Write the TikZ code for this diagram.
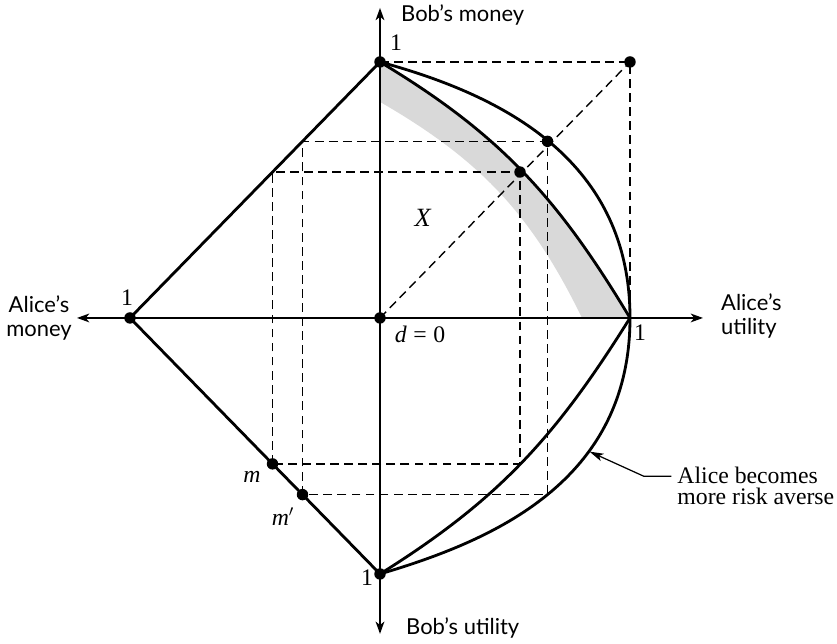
\documentclass[tikz,border=0pt]{standalone}
\usepackage{fontspec}
\setmainfont{Liberation Serif}
\newfontfamily\handfont{Lato}
\usetikzlibrary{arrows.meta, calc, positioning}

\tikzset{
  axis/.style={line width=0.9pt, <->},
  curve/.style={line width=1.6pt},
  guide/.style={line width=0.8pt, dash pattern=on 5pt off 3pt},
  dot/.style={circle, fill=black, inner sep=0pt, minimum size=6.5pt},
  axislabel/.style={font=\handfont\fontsize{12.5}{13.5}\selectfont, align=left},
  numlabel/.style={font=\fontsize{13.5}{12}\selectfont},
  pointer/.style={line width=0.7pt, -{Stealth[length=8pt, width=4.5pt, inset=2pt]}},
}

\begin{document}
\begin{tikzpicture}[x=5cm, y=5.12cm, >={Stealth[length=7pt, width=5pt, inset=2pt]}]
    \useasboundingbox (-1.52,-1.27) rectangle (1.828,1.242);
    % main points
    \coordinate (O) at (0,0);
    \coordinate (T) at (0,1);
    \coordinate (L) at (-1,0);
    \coordinate (B) at (0,-1);
    \coordinate (R) at (1,0);
    \coordinate (C) at (1,1);
    \coordinate (P1) at (0.56,0.57);
    \coordinate (P2) at (0.67,0.69);
    \coordinate (m) at (-0.43,-0.57);
    \coordinate (m2) at (-0.31,-0.69);
    % axis ends
    \coordinate (xl) at (-1.212,0);
    \coordinate (xr) at (1.292,0);
    \coordinate (yt) at (0,1.211);
    \coordinate (yb) at (0,-1.234);

    % shaded band
    \fill[black!15] (T) to[out=-31, in=121] (R) -- (0.808,0)
        to[out=116, in=-30] (0,0.844) -- cycle;

    % dashed guides
    \draw[guide] (T) -- (C) -- (R);
    \draw[guide] (O) -- (C);
    \draw[guide] (m) rectangle (P1);
    \draw[guide] (m2) rectangle (P2);

    % axes
    \draw[axis] (xl) -- (xr);
    \draw[axis] (yb) -- (yt);
    \node[axislabel, align=center] (amoney) at (-1.364,0) {Alice’s\\money};
    \node[axislabel, anchor=west] (autil) at (1.34,0.008) {Alice’s\\utility};
    \node[axislabel, anchor=west] (bmoney) at (0.06,1.184) {Bob’s money};
    \node[axislabel, anchor=west] (butil) at (0.08,-1.211) {Bob’s utility};

    % money lines
    \draw[curve] (L) -- (T);
    \draw[curve] (L) -- (B);

    % utility curves
    \draw[curve] (T) to[out=-31, in=121] (R);
    \draw[curve] (R) to[out=238, in=32] (B);
    \draw[curve] (T) .. controls (0.45,0.88) and (1,0.64) .. (R);
    \draw[curve] (R) .. controls (1,-0.64) and (0.45,-0.87) .. (B);

    % dots
    \foreach \p in {O,T,L,B,C,P1,P2,m,m2}
        \node[dot] at (\p) {};

    % labels
    \node[numlabel] (oneT) at (0.064,1.074) {1};
    \node[numlabel] (oneL) at (-1.012,0.078) {1};
    \node[numlabel] (oneR) at (1.04,-0.059) {1};
    \node[numlabel] (oneB) at (-0.052,-1.016) {1};
    \node[numlabel] (dzero) at (0.16,-0.066) {\textit{d}\;=\;0};
    \node[numlabel, font=\fontsize{15}{15}\selectfont] (Xlab) at (0.172,0.391) {\textit{X}};
    \node[numlabel] (mlab) at (-0.512,-0.621) {\textit{m}};
    \node[numlabel] (m2lab) at (-0.388,-0.777) {\textit{m}$'$};

    % note
    \coordinate (tip) at (0.838,-0.522);
    \node[numlabel, align=left, anchor=west] (note) at (1.165,-0.656)
        {Alice becomes\\more risk averse};
    \draw[pointer] ([yshift=5.5pt]note.west) -- ++(-0.11,0) -- (tip);
\end{tikzpicture}
\end{document}
